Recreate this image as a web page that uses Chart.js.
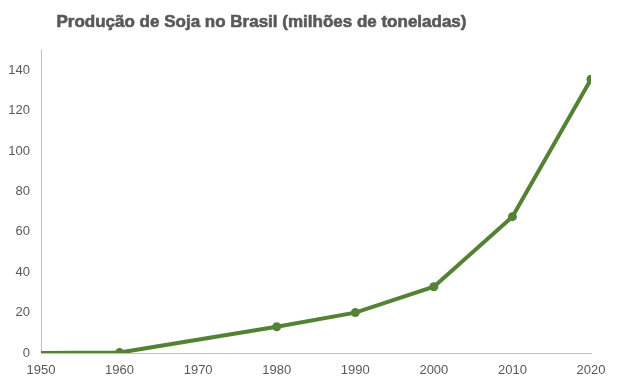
<!DOCTYPE html>
<html><head><meta charset="utf-8">
<script src="https://cdn.jsdelivr.net/npm/chart.js@4"></script>
<style>
html,body{margin:0;padding:0;background:#fff;}
#wrap{position:relative;width:619px;height:385px;}
#title{position:absolute;left:0;width:523px;top:12px;text-align:center;font:bold 17px "Liberation Sans",Arial,sans-serif;color:#595959;-webkit-text-stroke:0.6px #595959;}
canvas{position:absolute;left:0;top:0;}
</style></head>
<body>
<div id="wrap">
<canvas id="c" width="619" height="385"></canvas>
<div id="title">Produção de Soja no Brasil (milhões de toneladas)</div>
</div>
<script>
const years = [1950, 1960, 1980, 1990, 2000, 2010, 2020];
const production = [0, 0.2, 13, 20, 32.8, 67.5, 135.5];
const yTicks = [0, 20, 40, 60, 80, 100, 120, 140];
const xTicks = [1950, 1960, 1970, 1980, 1990, 2000, 2010, 2020];

const green = '#548235';
const tickFont = {family: '"Liberation Sans", Arial, sans-serif', size: 13};

new Chart(document.getElementById('c'), {
  type: 'line',
  data: {
    datasets: [{
      data: years.map((y, i) => ({x: y, y: production[i]})),
      borderColor: green,
      backgroundColor: green,
      borderWidth: 4,
      pointRadius: years.map((y, i) => i === 0 ? 0 : 4.5),
      pointBackgroundColor: green,
      pointBorderWidth: 0,
      tension: 0
    }]
  },
  options: {
    responsive: false,
    animation: false,
    plugins: {legend: {display: false}, tooltip: {enabled: false}},
    layout: {padding: {top: 50, right: 28, left: 0, bottom: 0}},
    scales: {
      x: {
        type: 'linear',
        min: 1950, max: 2020,
        grid: {display: false},
        border: {display: true, color: '#BFBFBF', width: 1},
        afterBuildTicks: s => { s.ticks = xTicks.map(v => ({value: v})); },
        afterFit: s => { s.height = 32; },
        ticks: {color: '#595959', font: tickFont, padding: 2, maxRotation: 0, autoSkip: false,
          callback: v => String(v)}
      },
      y: {
        min: 0, max: 150,
        grid: {display: false},
        border: {display: true, color: '#BFBFBF', width: 1},
        afterBuildTicks: s => { s.ticks = yTicks.map(v => ({value: v})); },
        afterFit: s => { s.width = 41; },
        ticks: {color: '#595959', font: tickFont, padding: 3}
      }
    }
  }
});
</script>
</body></html>
